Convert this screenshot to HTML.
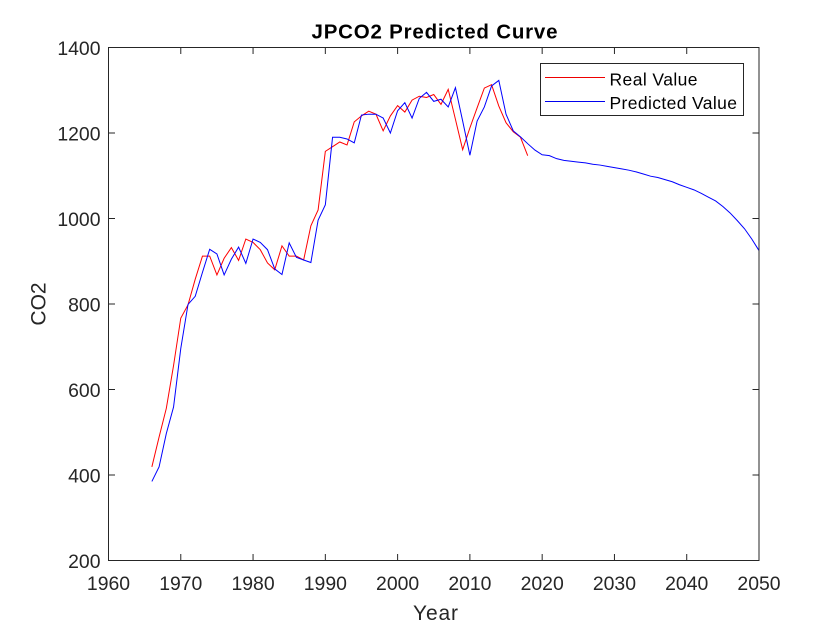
<!DOCTYPE html>
<html lang="en">
<head>
<meta charset="utf-8">
<title>JPCO2 Predicted Curve</title>
<style>
html,body{margin:0;padding:0;background:#fff;width:840px;height:630px;overflow:hidden}
svg{display:block}
text{font-family:"Liberation Sans",Arial,sans-serif;fill:#262626}
</style>
</head>
<body>
<svg id="chart" width="840" height="630" viewBox="0 0 840 630" xmlns="http://www.w3.org/2000/svg">
  <rect x="0" y="0" width="840" height="630" fill="#fff"/>
  <text x="311.5" y="38.5" font-size="20.5" font-weight="bold" textLength="246" lengthAdjust="spacing" style="fill:#000">JPCO2 Predicted Curve</text>
  <text x="413" y="620" font-size="21" textLength="45" lengthAdjust="spacing">Year</text>
  <text transform="translate(45.5 304) rotate(-90)" font-size="21" text-anchor="middle">CO2</text>
  <g id="ticks"></g>
  <g id="series"></g>
  <rect x="108.5" y="47.5" width="650.5" height="513" fill="none" stroke="#262626" stroke-width="1"/>
  <g>
    <rect x="540.5" y="63.5" width="203" height="52" fill="#fff" stroke="#262626" stroke-width="1"/>
    <line x1="545" x2="605" y1="77.5" y2="77.5" stroke="#ee0000" stroke-width="1"/>
    <text x="609.5" y="85.5" font-size="17.5" textLength="88" lengthAdjust="spacing" style="fill:#000">Real Value</text>
    <line x1="545" x2="605" y1="101.5" y2="101.5" stroke="#0000ee" stroke-width="1"/>
    <text x="609.5" y="109" font-size="17.5" textLength="127.5" lengthAdjust="spacing" style="fill:#000">Predicted Value</text>
  </g>
</svg>
<script>
const xTicks = [1960, 1970, 1980, 1990, 2000, 2010, 2020, 2030, 2040, 2050];
const yTicks = [200, 400, 600, 800, 1000, 1200, 1400];
const realStartYear = 1966;
const realValues = [419, 489, 556, 656, 767, 798, 858, 912, 912, 868, 907, 932, 902, 952, 944, 927, 896, 880, 936, 912, 912, 903, 983, 1020, 1157, 1168, 1179, 1172, 1226, 1240, 1251, 1244, 1205, 1240, 1264, 1249, 1277, 1286, 1283, 1290, 1267, 1302, 1232, 1161, 1212, 1259, 1305, 1313, 1263, 1224, 1203, 1190, 1147];
const predictedStartYear = 1966;
const predictedValues = [385, 419, 497, 559, 696, 799, 818, 874, 928, 917, 868, 905, 933, 895, 952, 944, 927, 882, 869, 943, 909, 903, 897, 996, 1032, 1190, 1190, 1186, 1177, 1242, 1244, 1244, 1235, 1200, 1252, 1271, 1235, 1281, 1295, 1274, 1279, 1261, 1306, 1228, 1148, 1228, 1261, 1310, 1323, 1244, 1205, 1191, 1175, 1160, 1149, 1147, 1140, 1136, 1134, 1132, 1130, 1127, 1125, 1122, 1119, 1116, 1113, 1109, 1104, 1099, 1096, 1091, 1086, 1079, 1073, 1067, 1059, 1050, 1041, 1028, 1013, 995, 976, 952, 925];

const NS = 'http://www.w3.org/2000/svg';
const xMin = 1960, xMax = 2050, yMin = 200, yMax = 1400;
const left = 108.5, right = 759, top_ = 47.5, bottom = 560.5, tickLen = 6.5;
function xScale(v) { return left + (v - xMin) / (xMax - xMin) * (right - left); }
function yScale(v) { return bottom - (v - yMin) / (yMax - yMin) * (bottom - top_); }
function make(tag, attrs) {
  const el = document.createElementNS(NS, tag);
  for (const k in attrs) el.setAttribute(k, attrs[k]);
  return el;
}
const tickGroup = document.getElementById('ticks');
xTicks.forEach(function (t) {
  const x = xScale(t);
  const bt = make('line', {x1: x, x2: x, y1: bottom, y2: bottom - tickLen, stroke: '#262626'});
  
  
  tickGroup.appendChild(bt);
  const tt = make('line', {x1: x, x2: x, y1: top_, y2: top_ + tickLen, stroke: '#262626'});
  
  
  tickGroup.appendChild(tt);
  const lb = make('text', {x: x, y: 590, 'font-size': 19.4, 'text-anchor': 'middle'});
  lb.textContent = t;
  
  
  tickGroup.appendChild(lb);
});
yTicks.forEach(function (t) {
  const y = yScale(t);
  const lt = make('line', {x1: left, x2: left + tickLen, y1: y, y2: y, stroke: '#262626'});
  
  
  tickGroup.appendChild(lt);
  const rt = make('line', {x1: right, x2: right - tickLen, y1: y, y2: y, stroke: '#262626'});
  
  
  tickGroup.appendChild(rt);
  const lb = make('text', {x: 100.5, y: y + 7.5, 'font-size': 19.4, 'text-anchor': 'end'});
  lb.textContent = t;
  
  
  tickGroup.appendChild(lb);
});
function linePoints(startYear, values) {
  return values.map(function (v, i) {
    return xScale(startYear + i).toFixed(2) + ',' + yScale(v).toFixed(2);
  }).join(' ');
}
const seriesGroup = document.getElementById('series');
const realLine = make('polyline', {points: linePoints(realStartYear, realValues), fill: 'none', stroke: '#ff0000', 'stroke-width': 1});


seriesGroup.appendChild(realLine);
const predictedLine = make('polyline', {points: linePoints(predictedStartYear, predictedValues), fill: 'none', stroke: '#0000ff', 'stroke-width': 1});


seriesGroup.appendChild(predictedLine);
</script>
</body>
</html>
